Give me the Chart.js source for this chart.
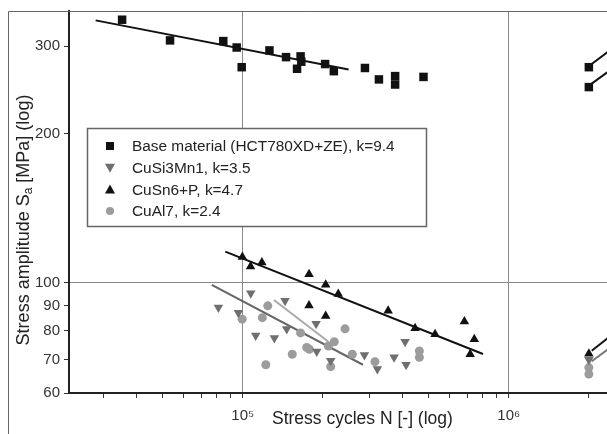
<!DOCTYPE html>
<html>
<head>
<meta charset="utf-8">
<script src="https://cdn.jsdelivr.net/npm/chart.js@4"></script>
<style>
html, body { margin: 0; padding: 0; background: #fff; }
</style>
</head>
<body>
<canvas id="snChart" width="607" height="434"></canvas>
<script>
// S-N data
const baseN = [35200, 53300, 84500, 94900, 99100, 126000, 145500, 165000, 160000, 166000, 204000, 220000, 288000, 325000, 374000, 374000, 478000, 2000000, 2000000];
const baseS = [339, 308, 307, 298, 272, 294, 285, 286, 270, 279, 276, 267, 271, 257, 261, 251, 260, 272, 248];

const siN = [81000, 96300, 107200, 144200, 111900, 131500, 146300, 188700, 189700, 214100, 286600, 320700, 370600, 407600, 411200, 2000000];
const siS = [89.2, 87.1, 95.3, 92.0, 78.3, 77.4, 80.7, 82.7, 72.7, 69.7, 71.6, 67.1, 70.8, 76.1, 68.4, 70.0];

const snN = [99700, 107000, 118000, 177500, 205000, 228600, 177500, 205000, 352000, 444500, 528500, 681000, 742000, 716000, 2000000];
const snS = [112.7, 107.9, 109.9, 104.1, 99.1, 95.0, 90.0, 85.8, 87.9, 81.0, 78.8, 83.6, 77.0, 71.8, 72.0];

const alN = [124200, 118500, 99500, 122100, 153500, 174000, 178000, 165000, 220800, 209700, 214100, 242400, 258200, 314000, 461300, 461300, 2000000, 2000000];
const alS = [89.9, 85.1, 84.5, 68.4, 71.8, 74.1, 73.5, 79.3, 76.1, 74.6, 67.8, 80.8, 71.8, 69.4, 72.9, 70.8, 67.5, 65.5];

// fitted lines (end points)
const baseFitN = [28000, 250000];  const baseFitS = [338, 269];
const snFitN = [86000, 800000];    const snFitS = [115.6, 71.9];
const siFitN = [76500, 283000];    const siFitS = [99.1, 68.4];
const alFitN = [131000, 210000];   const alFitS = [92.4, 76.1];

// run-out arrows at 2e6
const runN = [2050000, 2400000];
const runBase1S = [276, 294];
const runBase2S = [252, 268];
const runSnS = [73, 78];
const runGrayS = [69.5, 74];

const xTicks = [30000, 40000, 50000, 60000, 70000, 80000, 90000, 100000, 200000, 300000, 400000, 500000, 600000, 700000, 800000, 900000, 1000000, 2000000];
const yTicks = [60, 70, 80, 90, 100, 200, 300];

const legendItems = [
    { text: 'Base material (HCT780XD+ZE), k=9.4', shape: 'rect', color: '#111' },
    { text: 'CuSi3Mn1, k=3.5', shape: 'down', color: '#6f6f6f' },
    { text: 'CuSn6+P, k=4.7', shape: 'up', color: '#111' },
    { text: 'CuAl7, k=2.4', shape: 'circle', color: '#9c9c9c' }
];

const pts = (xs, ys) => xs.map((x, i) => ({ x: x, y: ys[i] }));
const FONT = "'Liberation Sans', Arial, sans-serif";

function fitLine(xs, ys, color) {
    return { type: 'line', data: pts(xs, ys), borderColor: color, borderWidth: 2, pointRadius: 0, fill: false, order: 2 };
}

function marker(c, shape, x, y, color) {
    c.fillStyle = color;
    c.beginPath();
    if (shape === 'rect') c.rect(x - 4, y - 4, 8, 8);
    else if (shape === 'up') { c.moveTo(x, y - 5); c.lineTo(x + 5, y + 4); c.lineTo(x - 5, y + 4); c.closePath(); }
    else if (shape === 'down') { c.moveTo(x, y + 5); c.lineTo(x + 5, y - 4); c.lineTo(x - 5, y - 4); c.closePath(); }
    else c.arc(x, y, 4, 0, Math.PI * 2);
    c.fill();
}

const decor = {
    id: 'decor',
    beforeDraw(chart) {
        const c = chart.ctx;
        c.save();
        c.fillStyle = '#fff';
        c.fillRect(0, 0, chart.width, chart.height);
        c.restore();
    },
    afterDraw(chart) {
        const c = chart.ctx;
        c.save();
        // outer frame
        c.strokeStyle = '#666';
        c.lineWidth = 1;
        c.beginPath();
        c.moveTo(8.5, 434); c.lineTo(8.5, 11.5); c.lineTo(607, 11.5);
        c.stroke();

        // legend box
        c.fillStyle = '#fff';
        c.fillRect(87, 128, 339, 98);
        c.strokeStyle = '#666';
        c.lineWidth = 1.5;
        c.strokeRect(87.5, 128.5, 339, 98);
        c.font = '15.4px ' + FONT;
        c.textBaseline = 'middle';
        legendItems.forEach((it, i) => {
            const y = 146 + i * 21.7;
            marker(c, it.shape, 110, y, it.color);
            c.fillStyle = '#222';
            c.fillText(it.text, 132, y + 1);
        });

        // axis titles
        c.fillStyle = '#222';
        c.font = '17.5px ' + FONT;
        c.textBaseline = 'middle';
        c.fillText('Stress cycles N [-] (log)', 272, 419);

        c.translate(24, 220);
        c.rotate(-Math.PI / 2);
        const p1 = 'Stress amplitude S', p2 = 'a', p3 = ' [MPa] (log)';
        c.font = '18px ' + FONT;
        const w1 = c.measureText(p1).width, w3 = c.measureText(p3).width;
        c.font = '12px ' + FONT;
        const w2 = c.measureText(p2).width;
        let x = -(w1 + w2 + w3) / 2;
        c.font = '18px ' + FONT;
        c.fillText(p1, x, 0);
        c.font = '12px ' + FONT;
        c.fillText(p2, x + w1, 5);
        c.font = '18px ' + FONT;
        c.fillText(p3, x + w1 + w2, 0);
        c.restore();
    }
};

new Chart(document.getElementById('snChart').getContext('2d'), {
    type: 'scatter',
    data: {
        datasets: [
            { data: pts(baseN, baseS), pointStyle: 'rect', pointRadius: 6, backgroundColor: '#111', borderWidth: 0, order: 1 },
            { data: pts(siN, siS), pointStyle: 'triangle', rotation: 180, pointRadius: 5.5, backgroundColor: '#6f6f6f', borderWidth: 0, order: 1 },
            { data: pts(snN, snS), pointStyle: 'triangle', pointRadius: 5.5, backgroundColor: '#111', borderWidth: 0, order: 1 },
            { data: pts(alN, alS), pointStyle: 'circle', pointRadius: 4.5, backgroundColor: '#9c9c9c', borderWidth: 0, order: 1 },
            fitLine(baseFitN, baseFitS, '#111'),
            fitLine(snFitN, snFitS, '#111'),
            fitLine(siFitN, siFitS, '#666'),
            fitLine(alFitN, alFitS, '#aaa'),
            fitLine(runN, runBase1S, '#111'),
            fitLine(runN, runBase2S, '#111'),
            fitLine(runN, runSnS, '#111'),
            fitLine(runN, runGrayS, '#777')
        ]
    },
    options: {
        responsive: false,
        animation: false,
        layout: { autoPadding: false, padding: { top: 11, left: 0, right: 0, bottom: 0 } },
        plugins: { legend: { display: false }, tooltip: { enabled: false } },
        scales: {
            x: {
                type: 'logarithmic',
                min: 22230,
                max: 2340000,
                afterBuildTicks: s => { s.ticks = xTicks.map(v => ({ value: v })); },
                afterFit: s => { s.height = 41; s.paddingLeft = 0; s.paddingRight = 0; },
                ticks: {
                    autoSkip: false, maxRotation: 0, padding: 9,
                    color: '#333', font: { family: FONT, size: 15 },
                    callback: v => v === 100000 ? '10\u2075' : (v === 1000000 ? '10\u2076' : '')
                },
                grid: {
                    color: c => (c.tick && (c.tick.value === 100000 || c.tick.value === 1000000)) ? '#888' : 'rgba(0,0,0,0)',
                    tickColor: '#333', tickLength: 5, lineWidth: 1
                },
                border: { color: '#222', width: 2 }
            },
            y: {
                type: 'logarithmic',
                min: 60,
                max: 353,
                afterBuildTicks: s => { s.ticks = yTicks.map(v => ({ value: v })); },
                afterFit: s => { s.width = 69; s.paddingTop = 0; s.paddingBottom = 0; },
                ticks: {
                    padding: 4, color: '#333', font: { family: FONT, size: 15 },
                    callback: v => String(v)
                },
                grid: {
                    color: c => (c.tick && c.tick.value === 100) ? '#888' : 'rgba(0,0,0,0)',
                    tickColor: '#333', tickLength: 5, lineWidth: 1
                },
                border: { color: '#222', width: 2 }
            }
        }
    },
    plugins: [decor]
});
</script>
</body>
</html>
